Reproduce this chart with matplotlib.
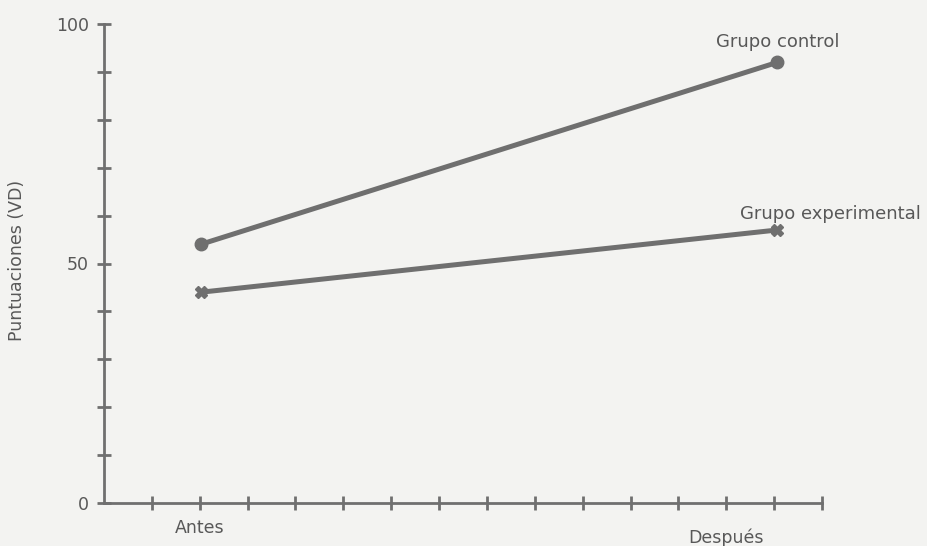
import numpy as np
import matplotlib.pyplot as plt

# data
momentos = ['Antes', 'Después']
pos_puntos = [2.02, 14.07]      # where the points sit on the 0..15 tick scale
pos_etiquetas = [2, 13]         # where the words sit under the axis
bajada_etiquetas = [18, 25]     # text drop below the axis, in points
grupo_control = [54, 92]
grupo_experimental = [44, 57]
y_labels = {0: '0', 50: '50', 100: '100'}

gris = '#6f6f6f'
texto = '#585858'
fondo = '#f3f3f1'

fig = plt.figure(figsize=(9.27, 5.46), dpi=100, facecolor=fondo)
ax = fig.add_axes([104 / 927, 43 / 546, 718 / 927, 479 / 546])
ax.set_facecolor(fondo)

ax.plot(pos_puntos, grupo_control, color=gris, lw=3.6, marker='o', ms=9,
        solid_capstyle='round')
ax.plot(pos_puntos, grupo_experimental, color=gris, lw=3.6, marker='X', ms=9,
        solid_capstyle='round')

ax.annotate('Grupo control', (pos_puntos[1], grupo_control[1]),
            xytext=(0, 11), textcoords='offset points', ha='center', va='baseline',
            fontsize=13, color=texto)
ax.annotate('Grupo experimental', (pos_puntos[1], grupo_experimental[1]),
            xytext=(-27, 8), textcoords='offset points', ha='left', va='baseline',
            fontsize=13, color=texto)

for nombre, xp, dy in zip(momentos, pos_etiquetas, bajada_etiquetas):
    ax.annotate(nombre, (xp, 0), xytext=(0, -dy), textcoords='offset points',
                ha='center', va='center', fontsize=12.5, color=texto,
                annotation_clip=False)

ax.set_xlim(0, 15)
ax.set_ylim(0, 100)
for s in ['top', 'right']:
    ax.spines[s].set_visible(False)
for s in ['left', 'bottom']:
    ax.spines[s].set_color(gris)
    ax.spines[s].set_linewidth(2)

ax.set_yticks(np.arange(0, 101, 10))
ax.set_yticklabels([y_labels.get(v, '') for v in range(0, 101, 10)])
ax.set_xticks(np.arange(1, 16))
ax.set_xticklabels([])
ax.tick_params(axis='both', direction='inout', length=10, width=2, color=gris,
               labelcolor=texto)
ax.tick_params(axis='y', labelsize=12.5, pad=6)

ax.set_ylabel('Puntuaciones (VD)', fontsize=12.5, color=texto, va='center')
ax.yaxis.set_label_coords(-0.121, 0.507)

fig.savefig('out.png', dpi=100, facecolor=fondo)
